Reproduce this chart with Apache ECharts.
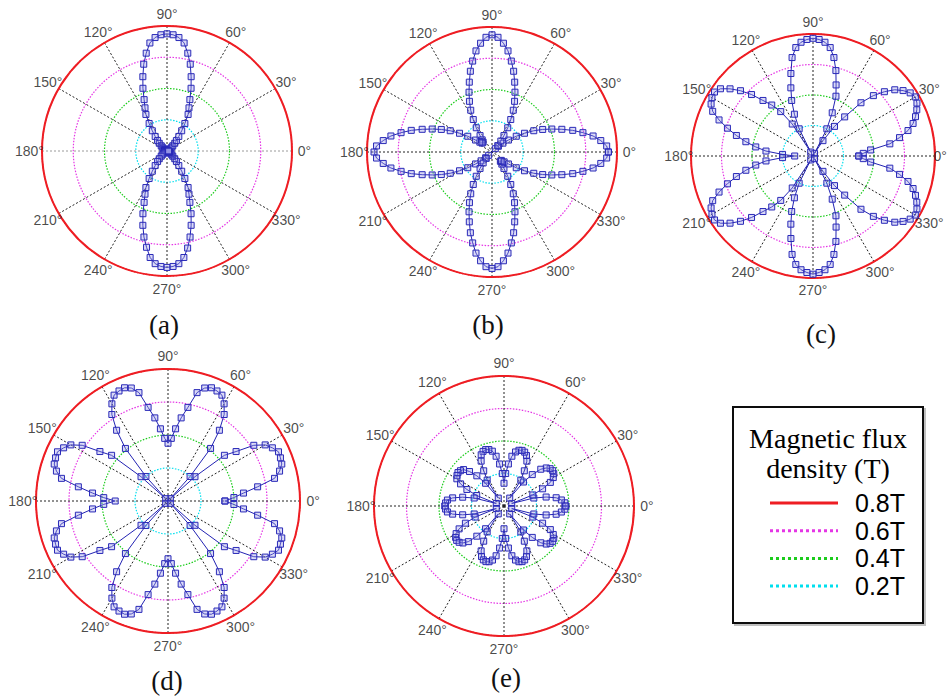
<!DOCTYPE html>
<html>
<head>
<meta charset="utf-8">
<script src="https://cdn.jsdelivr.net/npm/echarts@6/dist/echarts.min.js"></script>
<style>html,body{margin:0;padding:0;background:#fff}#c{width:950px;height:699px}</style>
</head>
<body>
<div id="c"></div>
<script>
// ---- data (angle step 3 degrees, 0..357) ----
const STEP = 3;
const tickAngles = [0, 30, 60, 90, 120, 150, 180, 210, 240, 270, 300, 330];
const tickLabels = ['0°', '30°', '60°', '90°', '120°', '150°', '180°', '210°', '240°', '270°', '300°', '330°'];
const circleLevels = [0.2, 0.4, 0.6, 0.8];
const legendLabels = ['0.8T', '0.6T', '0.4T', '0.2T'];
const legendTitle = ['Magnetic flux', 'density (T)'];
const panelNames = ['(a)', '(b)', '(c)', '(d)', '(e)'];

const rA = [
 0.01,0.01,0.01,0.01,0.01,0.01,0.01,0.01,0.01,0.015,0.015,0.02,0.03,0.04,0.05,0.07,0.09,0.12,0.16,0.21,0.27,0.31,0.36,0.43,0.50,0.575,0.64,0.70,0.73,0.745,
 0.75,0.745,0.73,0.70,0.64,0.575,0.50,0.43,0.36,0.31,0.27,0.21,0.16,0.12,0.09,0.07,0.05,0.04,0.03,0.02,0.015,0.015,0.01,0.01,0.01,0.01,0.01,0.01,0.01,0.01,
 0.01,0.01,0.01,0.01,0.01,0.01,0.01,0.01,0.01,0.015,0.015,0.02,0.03,0.04,0.05,0.07,0.09,0.12,0.16,0.21,0.27,0.31,0.36,0.43,0.50,0.57,0.63,0.69,0.725,0.74,
 0.745,0.74,0.725,0.69,0.635,0.57,0.50,0.43,0.36,0.31,0.27,0.21,0.16,0.12,0.09,0.07,0.05,0.04,0.03,0.02,0.015,0.015,0.01,0.01,0.01,0.01,0.01,0.01,0.01,0.01
];
const rB = [
 0.745,0.735,0.70,0.655,0.595,0.535,0.47,0.41,0.355,0.30,0.24,0.185,0.13,0.09,0.055,0.03,0.055,0.09,0.13,0.185,0.24,0.30,0.355,0.41,0.47,0.535,0.595,0.655,0.70,0.735,
 0.75,0.735,0.70,0.655,0.595,0.535,0.47,0.41,0.355,0.30,0.24,0.185,0.13,0.10,0.085,0.09,0.085,0.10,0.13,0.185,0.24,0.30,0.355,0.41,0.47,0.535,0.595,0.655,0.70,0.74,
 0.755,0.74,0.70,0.655,0.595,0.535,0.47,0.41,0.355,0.30,0.24,0.185,0.13,0.09,0.055,0.03,0.055,0.09,0.13,0.185,0.24,0.30,0.355,0.41,0.47,0.535,0.595,0.655,0.70,0.735,
 0.745,0.735,0.70,0.655,0.595,0.535,0.47,0.41,0.355,0.30,0.24,0.185,0.13,0.10,0.08,0.085,0.08,0.10,0.13,0.185,0.24,0.30,0.355,0.41,0.47,0.535,0.595,0.655,0.70,0.735
];
const rC = [
 0.30,0.33,0.38,0.51,0.58,0.645,0.69,0.72,0.745,0.765,0.775,0.76,0.73,0.69,0.63,0.56,0.47,0.33,0.24,0.12,0.02,0.20,0.31,0.42,0.49,0.58,0.66,0.72,0.75,0.765,
 0.772,0.765,0.75,0.72,0.66,0.56,0.47,0.39,0.30,0.20,0.03,0.25,0.36,0.43,0.49,0.57,0.64,0.70,0.75,0.77,0.765,0.75,0.72,0.66,0.59,0.52,0.45,0.38,0.31,0.20,
 0.12,0.20,0.31,0.38,0.45,0.52,0.59,0.66,0.72,0.75,0.765,0.77,0.75,0.70,0.64,0.57,0.49,0.43,0.36,0.25,0.03,0.20,0.30,0.39,0.47,0.56,0.66,0.72,0.75,0.765,
 0.775,0.765,0.75,0.72,0.66,0.58,0.49,0.42,0.31,0.20,0.02,0.12,0.24,0.33,0.47,0.56,0.63,0.69,0.73,0.76,0.775,0.765,0.745,0.72,0.69,0.645,0.58,0.51,0.38,0.33
];
const rD = [
 0.345,0.40,0.46,0.55,0.66,0.70,0.725,0.73,0.733,0.71,0.68,0.62,0.51,0.44,0.22,0.02,0.20,0.41,0.53,0.625,0.68,0.72,0.73,0.735,0.72,0.68,0.58,0.51,0.44,0.38,
 0.35,0.38,0.44,0.51,0.58,0.68,0.72,0.735,0.73,0.72,0.68,0.625,0.53,0.41,0.20,0.02,0.22,0.44,0.51,0.62,0.68,0.71,0.733,0.73,0.725,0.70,0.66,0.55,0.46,0.39,
 0.32,0.39,0.46,0.55,0.66,0.70,0.725,0.73,0.733,0.71,0.68,0.62,0.51,0.44,0.22,0.02,0.20,0.41,0.53,0.625,0.68,0.72,0.73,0.735,0.72,0.68,0.58,0.51,0.44,0.38,
 0.35,0.38,0.44,0.51,0.58,0.68,0.72,0.735,0.73,0.72,0.68,0.625,0.53,0.41,0.20,0.02,0.22,0.44,0.51,0.62,0.68,0.71,0.733,0.73,0.725,0.70,0.66,0.55,0.46,0.40
];
const rE = [
 0.38,0.375,0.355,0.325,0.265,0.19,0.05,
 0.19,0.26,0.32,0.35,0.365,0.37,0.365,0.35,0.32,0.26,0.19,0.06,
 0.19,0.25,0.31,0.34,0.355,0.36,0.355,0.34,0.31,0.26,0.20,0.14,
 0.20,0.26,0.31,0.345,0.36,0.365,0.36,0.345,0.31,0.25,0.19,0.06,
 0.18,0.25,0.30,0.335,0.345,0.35,0.345,0.335,0.30,0.25,0.18,0.05,
 0.19,0.26,0.32,0.35,0.36,0.365,0.36,0.35,0.32,0.26,0.19,0.05,
 0.19,0.26,0.31,0.34,0.355,0.36,0.355,0.34,0.31,0.25,0.18,0.06,
 0.19,0.25,0.31,0.34,0.355,0.36,0.355,0.34,0.31,0.26,0.20,0.14,
 0.20,0.26,0.31,0.34,0.355,0.36,0.355,0.34,0.31,0.25,0.19,0.06,
 0.19,0.26,0.32,0.35,0.365,0.37,0.365,0.35,0.32,0.26,0.19,0.05,
 0.19,0.265,0.325,0.355,0.375
];
const panelData = [rA, rB, rC, rD, rE];

// ---- layout / style ----
const layout = [
  {center: [167, 151], radius: 125, label: [164, 325]},
  {center: [492, 152], radius: 125, label: [488, 325]},
  {center: [813, 156], radius: 122, label: [821, 334]},
  {center: [168, 501], radius: 132, label: [167, 681]},
  {center: [504, 506], radius: 130, label: [506, 678]}
];
const levelColors = ['#00dfee', '#1ccc1c', '#e535e5', '#ee1d23'];
const labelRadius = 0.88;

const chart = echarts.init(document.getElementById('c'), null, {renderer: 'svg'});

const polar = [], angleAxis = [], radiusAxis = [], series = [], graphic = [];
layout.forEach((L, i) => {
  polar.push({center: L.center, radius: L.radius});
  angleAxis.push({
    polarIndex: i, type: 'value', min: 0, max: 360, interval: 30,
    startAngle: 0, clockwise: false,
    axisLine: {show: true, lineStyle: {color: '#ee1d23', width: 2}},
    axisTick: {show: false}, axisLabel: {show: false},
    splitLine: {show: true, lineStyle: {color: i === 0 ? ['#9a9a9a', '#222', '#222', '#222', '#222', '#222', '#9a9a9a', '#222', '#222', '#222', '#222', '#222'] : '#222', width: 1, type: [2, 2]}}
  });
  radiusAxis.push({
    polarIndex: i, type: 'value', min: 0, max: 0.8, interval: 0.2,
    axisLine: {show: false}, axisTick: {show: false}, axisLabel: {show: false},
    splitLine: {show: true, lineStyle: {color: ['#ffffff'].concat(levelColors), width: 1.2, type: [1.5, 1.5]}}
  });
  const vals = panelData[i];
  const pts = vals.map((r, k) => [r, k * STEP]);
  pts.push([vals[0], 360]);
  series.push({
    type: 'line', coordinateSystem: 'polar', polarIndex: i,
    data: pts, symbol: 'rect', symbolSize: 6, showSymbol: true, showAllSymbol: true,
    lineStyle: {color: '#2323b3', width: 1},
    itemStyle: {color: 'rgba(150,150,228,0.35)', borderColor: '#2a2ab8', borderWidth: 1},
    silent: true, animation: false, z: 5
  });
  // keep the right-edge label of panel (c) inside the page
  const labelData = tickAngles.map(a => {
    const item = {value: [labelRadius, a]};
    if (i === 2 && a === 0) item.label = {offset: [-7, 0]};
    return item;
  });
  series.push({
    type: 'scatter', coordinateSystem: 'polar', polarIndex: i, clip: false,
    data: labelData, symbolSize: 0,
    itemStyle: {color: 'transparent'},
    label: {show: true, position: 'inside', formatter: p => tickLabels[p.dataIndex],
      color: '#1a1a1a', fontSize: 14, fontFamily: 'Liberation Sans, Arial, sans-serif'},
    silent: true, animation: false
  });
  graphic.push({
    type: 'text', x: L.label[0], y: L.label[1],
    style: {text: panelNames[i], font: '27px "Liberation Serif", "Times New Roman", serif', fill: '#111', align: 'center', verticalAlign: 'middle'}
  });
});

// legend box
const box = {x: 733, y: 407, w: 190, h: 216};
graphic.push({type: 'rect', shape: {x: box.x, y: box.y, width: box.w, height: box.h},
  style: {fill: '#fff', stroke: '#111', lineWidth: 2, shadowColor: 'rgba(0,0,0,0.25)', shadowOffsetX: 2, shadowOffsetY: 2, shadowBlur: 1}, z: 10});
legendTitle.forEach((t, k) => graphic.push({type: 'text', x: box.x + box.w / 2, y: 438 + k * 30,
  style: {text: t, font: '28px "Liberation Serif", "Times New Roman", serif', fill: '#000', align: 'center', verticalAlign: 'middle'}, z: 11}));
const legendDash = [null, [3, 3], [3, 3], [3, 3]];
legendLabels.forEach((t, k) => {
  const y = 503 + k * 27.7;
  graphic.push({type: 'line', shape: {x1: 770, y1: y, x2: 838, y2: y},
    style: {stroke: levelColors[3 - k], lineWidth: 3, lineDash: legendDash[k]}, z: 11});
  graphic.push({type: 'text', x: 855, y: y,
    style: {text: t, font: '25px "Liberation Sans", Arial, sans-serif', fill: '#000', align: 'left', verticalAlign: 'middle'}, z: 11});
});

chart.setOption({
  backgroundColor: '#ffffff',
  animation: false,
  polar, angleAxis, radiusAxis, series, graphic
});
</script>
</body>
</html>
